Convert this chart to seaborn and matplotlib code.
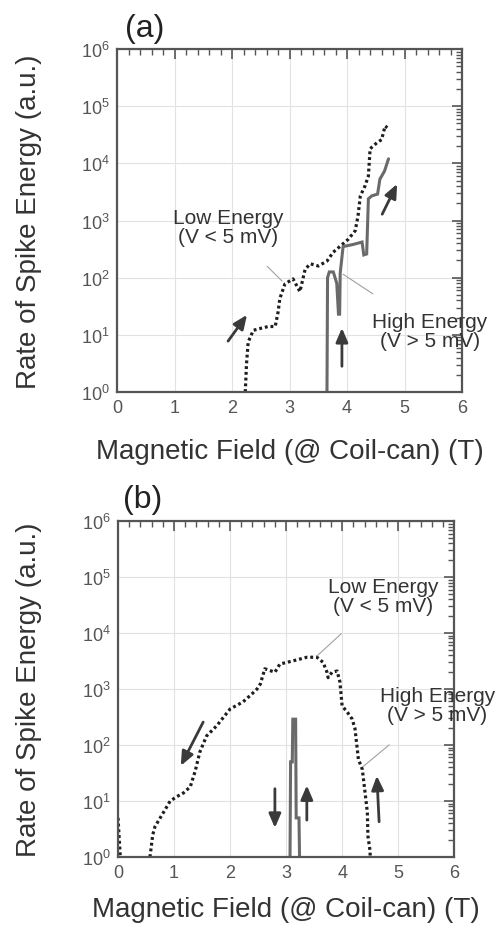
import numpy as np
import pandas as pd
import matplotlib
matplotlib.use("Agg")
import matplotlib.pyplot as plt
import seaborn as sns
from matplotlib.ticker import FixedLocator, MultipleLocator, LogLocator, NullFormatter

# ---------------- data ----------------
x_ticks = [0, 1, 2, 3, 4, 5, 6]
y_ticks = [1, 10, 100, 1e3, 1e4, 1e5, 1e6]
y_tick_labels = ["10$^{0}$", "10$^{1}$", "10$^{2}$", "10$^{3}$", "10$^{4}$", "10$^{5}$", "10$^{6}$"]
x_label = "Magnetic Field (@ Coil-can) (T)"
y_label = "Rate of Spike Energy (a.u.)"

# panel (a)
a_low_B = [2.23, 2.25, 2.28, 2.37, 2.50, 2.63, 2.75, 2.80, 2.83, 2.92, 3.06, 3.18, 3.27, 3.36,
           3.50, 3.65, 3.76, 3.88, 4.02, 4.14, 4.19, 4.23, 4.31, 4.37, 4.40, 4.52, 4.60, 4.66, 4.70]
a_low_rate = [1, 3, 7.5, 12, 13, 14, 14, 25, 43, 78, 95, 57, 140, 175,
              160, 195, 280, 355, 470, 660, 1200, 2700, 4000, 6000, 1.8e4, 2.3e4, 2.6e4, 4.5e4, 4.2e4]
a_high_B = [3.65, 3.66, 3.69, 3.76, 3.82, 3.85, 3.87, 3.88, 3.93, 4.10, 4.26, 4.29, 4.34,
            4.37, 4.43, 4.53, 4.57, 4.65, 4.72]
a_high_rate = [1, 100, 126, 126, 80, 23, 23, 120, 350, 380, 420, 250, 260,
               2400, 2700, 2900, 5300, 7300, 1.2e4]

# panel (b)
b_low_seg = [0, 0] + [1] * 44
b_low_B = [0.00, 0.04,
           0.57, 0.62, 0.66, 0.80, 0.93, 1.05, 1.17, 1.29, 1.38, 1.46, 1.58, 1.76, 1.90, 2.00,
           2.23, 2.38, 2.48, 2.54, 2.62, 2.80, 2.89, 3.13, 3.37, 3.55, 3.66, 3.73, 3.75, 3.82,
           3.91, 3.96, 4.00, 4.09, 4.18, 4.23, 4.29, 4.36, 4.41, 4.45, 4.46, 4.50, 4.50, 4.50, 4.50, 4.50]
b_low_rate = [5, 1,
              1, 2.5, 3.5, 6, 10, 12, 14, 18, 35, 75, 145, 220, 330, 440,
              590, 800, 1000, 1230, 2300, 2000, 2800, 3200, 3700, 3700, 3000, 2000, 1600, 2000,
              2100, 1350, 500, 390, 290, 195, 56, 37, 14, 6.3, 2.4, 1.26, 1.26, 1.26, 1.26, 1.0]
b_high_B = [3.07, 3.08, 3.11, 3.12, 3.17, 3.18, 3.23, 3.24]
b_high_rate = [1, 50, 50, 290, 290, 5, 5, 1]

# annotation arrows (tail B, tail rate, head B, head rate)
a_arrows = [(1.93, 10**0.89, 2.26, 10**1.35),
            (3.91, 10**0.45, 3.91, 10**1.12),
            (4.61, 10**3.11, 4.87, 10**3.64)]
b_arrows = [(1.52, 10**2.41, 1.12, 10**1.63),
            (2.80, 10**1.22, 2.80, 10**0.52),
            (3.37, 10**0.66, 3.37, 10**1.28),
            (4.66, 10**0.63, 4.62, 10**1.45)]

# ---------------- style ----------------
sns.set_theme(style="white")
plt.rcParams["font.family"] = ["Liberation Sans", "DejaVu Sans"]
plt.rcParams["mathtext.fontset"] = "custom"
plt.rcParams["mathtext.rm"] = "Liberation Sans"
plt.rcParams["mathtext.default"] = "regular"

fig = plt.figure(figsize=(4.98, 9.28), dpi=100)
ax1 = fig.add_axes([0.235, 0.5765, 0.693, 0.3696])
ax2 = fig.add_axes([0.237, 0.0754, 0.675, 0.362])

LOW_COLOR = "#1e1e1e"
HIGH_COLOR = "#6a6a6a"


def draw(ax, low_df, high_df):
    sns.lineplot(data=low_df, x="B", y="rate", units="seg", estimator=None, sort=False,
                 color=LOW_COLOR, lw=2.3, ax=ax)
    for ln in ax.lines:
        ln.set_linestyle((0, (0.9, 0.9)))
    n = len(ax.lines)
    sns.lineplot(data=high_df, x="B", y="rate", estimator=None, sort=False,
                 color=HIGH_COLOR, lw=2.2, ax=ax)
    for ln in ax.lines[n:]:
        ln.set_solid_joinstyle("miter")


def style(ax, xlab_y, ylab_x):
    ax.set_yscale("log")
    ax.set_xlim(0, 6)
    ax.set_ylim(1, 1e6)
    ax.xaxis.set_major_locator(FixedLocator(x_ticks))
    ax.set_xticklabels([str(t) for t in x_ticks])
    ax.xaxis.set_minor_locator(MultipleLocator(0.2))
    ax.yaxis.set_major_locator(FixedLocator(y_ticks))
    ax.set_yticklabels(y_tick_labels)
    ax.yaxis.set_minor_locator(LogLocator(base=10, subs=np.arange(2, 10), numticks=20))
    ax.yaxis.set_minor_formatter(NullFormatter())
    ax.tick_params(which="both", direction="in", top=True, right=True, color="#555555")
    ax.tick_params(which="major", length=7, width=1.2, labelsize=13, labelcolor="#555555", pad=5)
    ax.tick_params(which="minor", length=4, width=1.0)
    ax.grid(True, which="major", color="#e2e2e2", lw=0.8)
    for s in ax.spines.values():
        s.set_visible(True)
        s.set_color("#555555")
        s.set_linewidth(1.6)
    ax.set_xlabel(x_label, fontsize=20, color="#333333")
    ax.set_ylabel(y_label, fontsize=20, color="#333333")
    ax.xaxis.set_label_coords(0.5, xlab_y)
    ax.yaxis.set_label_coords(ylab_x, 0.5)


def arrows(ax, lst):
    for (x0, y0, x1, y1) in lst:
        ax.annotate("", xy=(x1, y1), xytext=(x0, y0),
                    arrowprops=dict(arrowstyle="-|>,head_length=0.7,head_width=0.3",
                                    color="#3a3a3a", lw=2.0, shrinkA=0, shrinkB=0))


def label(ax, text, xy, xytext, shrink):
    ax.annotate(text, xy=xy, xytext=xytext, ha="center", va="center", fontsize=15,
                color="#333333", linespacing=1.0, annotation_clip=False,
                arrowprops=dict(arrowstyle="-", color="#a0a0a0", lw=0.8, shrinkA=shrink, shrinkB=0))


# panel (a)
a_low = pd.DataFrame({"B": a_low_B, "rate": a_low_rate, "seg": 0})
a_high = pd.DataFrame({"B": a_high_B, "rate": a_high_rate})
draw(ax1, a_low, a_high)
style(ax1, -0.135, -0.218)
arrows(ax1, a_arrows)
label(ax1, "Low Energy\n(V < 5 mV)", (2.87, 10**1.94), (1.93, 10**2.88), 17)
label(ax1, "High Energy\n(V > 5 mV)", (3.93, 10**2.06), (5.44, 10**1.06), 20)

# panel (b)
b_low = pd.DataFrame({"B": b_low_B, "rate": b_low_rate, "seg": b_low_seg})
b_high = pd.DataFrame({"B": b_high_B, "rate": b_high_rate})
draw(ax2, b_low, b_high)
style(ax2, -0.115, -0.226)
arrows(ax2, b_arrows)
label(ax2, "Low Energy\n(V < 5 mV)", (3.55, 10**3.59), (4.73, 10**4.67), 17)
label(ax2, "High Energy\n(V > 5 mV)", (4.38, 10**1.62), (5.7, 10**2.72), 20)

fig.text(125 / 498, 1 - 29 / 928, "(a)", fontsize=23, color="#222222", ha="left", va="center")
fig.text(123 / 498, 1 - 500 / 928, "(b)", fontsize=23, color="#222222", ha="left", va="center")

fig.savefig("out.png", dpi=100)
